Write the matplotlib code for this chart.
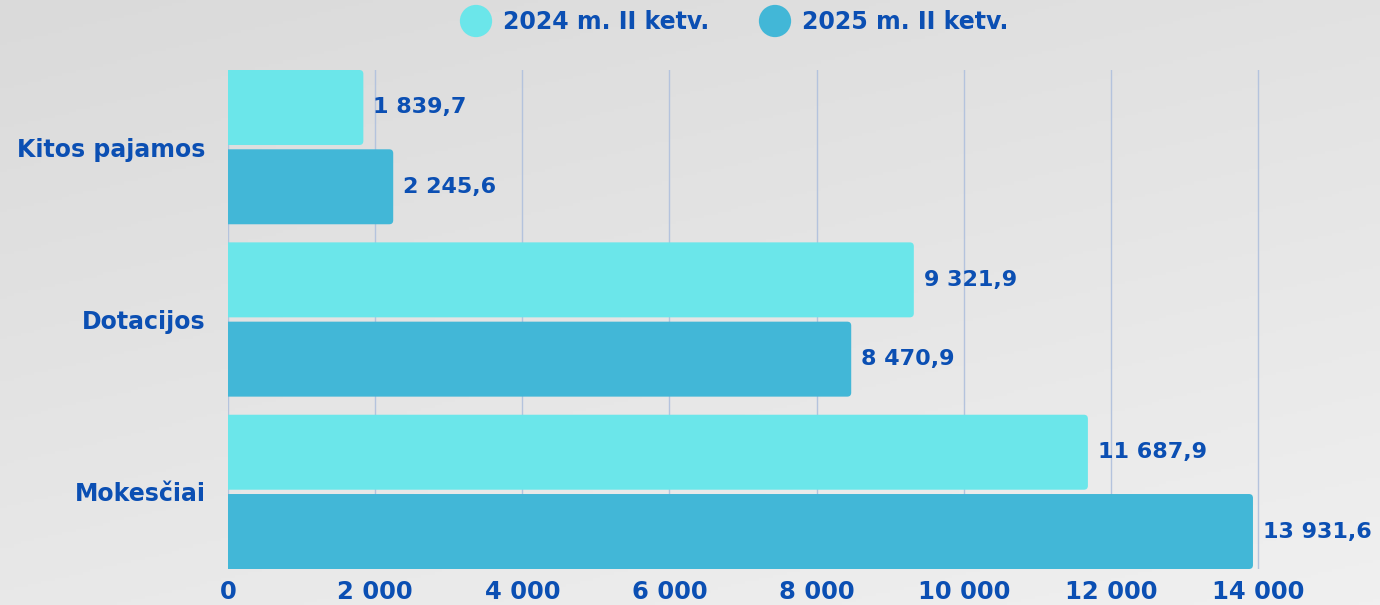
import matplotlib.pyplot as plt
import numpy as np
from matplotlib.ticker import FuncFormatter
from matplotlib.patches import FancyBboxPatch
from matplotlib.colors import LinearSegmentedColormap

plt.rcParams['font.family'] = ['DejaVu Sans']
plt.rcParams['font.weight'] = 'bold'

# data
categories = ['Kitos pajamos', 'Dotacijos', 'Mokesčiai']
series_names = ['2024 m. II ketv.', '2025 m. II ketv.']
values_2024 = [1839.7, 9321.9, 11687.9]
values_2025 = [2245.6, 8470.9, 13931.6]
x_ticks = [0, 2000, 4000, 6000, 8000, 10000, 12000, 14000]

TEXT = '#0b4fb3'
C_2024 = '#6be6ea'
C_2025 = '#42b7d7'
GRID = '#b4c3dd'


def fmt_num(v, decimals=1):
    s = f"{v:,.{decimals}f}"
    return s.replace(',', ' ').replace('.', ',')


W, H = 1380, 605
fig = plt.figure(figsize=(W / 100, H / 100), dpi=100)

# background gradient
bg = fig.add_axes([0, 0, 1, 1], zorder=0)
gx, gy = np.meshgrid(np.linspace(0, 1, 200), np.linspace(0, 1, 200))
grad = 0.65 * gy + 0.35 * gx
bg.imshow(grad, cmap=LinearSegmentedColormap.from_list('bg', ['#dadada', '#f0f0f0']),
          aspect='auto', extent=[0, 1, 0, 1], origin='upper')
bg.axis('off')

# main axes (pixel layout)
left, right, top, bottom = 228, 1260, 70, 569
ax = fig.add_axes([left / W, 1 - bottom / H, (right - left) / W, (bottom - top) / H], zorder=1)
ax.patch.set_alpha(0)

y = np.arange(len(categories))
bh = 0.435
off = 0.23
xmax = 14000 * (right - left) / 1030
ax.set_xlim(0, xmax)
ax.set_ylim(2 + off + bh / 2, -off - bh / 2)

b1 = ax.barh(y - off, values_2024, height=bh, color=C_2024, zorder=3)
b2 = ax.barh(y + off, values_2025, height=bh, color=C_2025, zorder=3)

# rounded right corners (~4 px)
px_x = xmax / (right - left)
px_y = (2 + 2 * off + bh) / (bottom - top)
r = 4 * px_x
for bars in (b1, b2):
    for rect in bars:
        rect.set_visible(False)
        p = FancyBboxPatch((-3 * r, rect.get_y()), rect.get_width() + 3 * r, rect.get_height(),
                           boxstyle=f"round,pad=0,rounding_size={r}",
                           mutation_aspect=px_y / px_x,
                           facecolor=rect.get_facecolor(), edgecolor='none', zorder=3)
        ax.add_patch(p)

for bars, vals in ((b1, values_2024), (b2, values_2025)):
    for rect, v in zip(bars, vals):
        ax.annotate(fmt_num(v), (v, rect.get_y() + rect.get_height() / 2),
                    xytext=(7, 0), textcoords='offset points', va='center', ha='left',
                    fontsize=16, color=TEXT, fontweight='bold', clip_on=False, zorder=4)

ax.set_xticks(x_ticks)
ax.xaxis.set_major_formatter(FuncFormatter(lambda v, p: fmt_num(v, 0)))
ax.set_yticks(y)
ax.set_yticklabels(categories)
ax.tick_params(axis='x', length=0, pad=8, labelsize=17.5, labelcolor=TEXT)
ax.tick_params(axis='y', length=0, pad=16, labelsize=17, labelcolor=TEXT)
for lab in ax.get_xticklabels() + ax.get_yticklabels():
    lab.set_fontweight('bold')
ax.grid(axis='x', color=GRID, linewidth=1, zorder=1)
ax.grid(axis='y', visible=False)
for s in ax.spines.values():
    s.set_visible(False)

# legend
ov = fig.add_axes([0, 0, 1, 1], zorder=2)
ov.set_xlim(0, W)
ov.set_ylim(H, 0)
ov.axis('off')
for cx, tx, col, name in ((476, 503, C_2024, series_names[0]),
                          (775, 802, C_2025, series_names[1])):
    ov.scatter([cx], [21], s=540, color=col, edgecolors='none')
    ov.text(tx, 22, name, fontsize=17, color=TEXT, fontweight='bold', va='center', ha='left')

fig.savefig('out.png', dpi=100)
